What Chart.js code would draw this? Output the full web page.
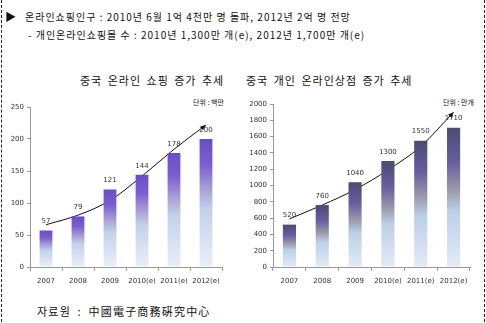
<!DOCTYPE html>
<html><head><meta charset="utf-8">
<script src="https://cdn.jsdelivr.net/npm/chart.js@4"></script>
<style>
body{margin:0;width:486px;height:323px;background:#fff;font-family:"Noto Sans CJK KR","Noto Sans",sans-serif;position:relative;overflow:hidden}
.t{position:absolute;white-space:nowrap;color:#111;line-height:1}
.frame{position:absolute;left:1px;top:0;width:482px;height:322px;border-left:1px dashed #222;border-right:1px dashed #222}
canvas{position:absolute}
</style></head><body>
<div class="frame"></div>
<div class="t" style="left:5px;top:11px;font-size:11px">▶</div>
<div class="t" style="left:25px;top:12px;font-size:10px;letter-spacing:1px">온라인쇼핑인구 : 2010년 6월 1억 4천만 명 돌파, 2012년 2억 명 전망</div>
<div class="t" style="left:28px;top:30px;font-size:10px;letter-spacing:1px">- 개인온라인쇼핑몰 수 : 2010년 1,300만 개(e), 2012년 1,700만 개(e)</div>
<div class="t" style="left:80px;top:75px;font-size:11px;letter-spacing:1px;word-spacing:2px">중국 온라인 쇼핑 증가 추세</div>
<div class="t" style="left:246px;top:75px;font-size:11px;letter-spacing:1px;word-spacing:2px">중국 개인 온라인상점 증가 추세</div>
<div class="t" style="left:193px;top:99px;font-size:7px">단위 : 백만</div>
<div class="t" style="left:443px;top:99px;font-size:7px">단위 : 만개</div>
<div class="t" style="left:37px;top:306px;font-size:11px;letter-spacing:1.2px;word-spacing:3px">자료원 : 中國電子商務硏究中心</div>
<canvas id="shoppersChart" style="left:0;top:95px" width="235" height="205"></canvas>
<canvas id="shopsChart" style="left:243px;top:95px" width="243" height="205"></canvas>
<script>
// values
const years = ['2007', '2008', '2009', '2010(e)', '2011(e)', '2012(e)'];
const shoppers = [57, 79, 121, 144, 178, 200];        // 단위: 백만
const shoppersTrend = [66, 81, 104, 142, 184, 222];   // curved arrow
const shops = [520, 760, 1040, 1300, 1550, 1710];     // 단위: 만개
const shopsTrend = [590, 760, 950, 1190, 1480, 1900]; // curved arrow

// bar gradients, top -> bottom
const purpleStops = [[0, '#6a4cc6'], [0.2, '#7c5ed2'], [0.4, '#aba2d8'], [0.55, '#c3d2ea'], [1, '#eaeff8']];
const slateStops = [[0, '#4b4b73'], [0.25, '#675ea0'], [0.45, '#9c9bab'], [0.6, '#bdd0e8'], [1, '#e3ebf6']];

// draws the value labels and the arrow head
const extras = {
    id: 'extras',
    afterDatasetsDraw(chart) {
        const c = chart.ctx;
        c.save();
        const bars = chart.getDatasetMeta(0);
        c.font = '7px "DejaVu Sans", sans-serif';
        c.fillStyle = '#333';
        c.textAlign = 'center';
        c.textBaseline = 'middle';
        bars.data.forEach(function(bar, i) {
            c.fillText(chart.data.datasets[0].data[i], bar.x, bar.y - 9);
        });
        // arrow head at the end of the trend line
        const pts = chart.getDatasetMeta(1).data;
        const last = pts[pts.length - 1];
        const px = last.cp1x !== undefined ? last.cp1x : pts[pts.length - 2].x;
        const py = last.cp1y !== undefined ? last.cp1y : pts[pts.length - 2].y;
        const a = Math.atan2(last.y - py, last.x - px);
        c.fillStyle = '#111';
        c.beginPath();
        c.moveTo(last.x, last.y);
        c.lineTo(last.x - 6 * Math.cos(a - 0.4), last.y - 6 * Math.sin(a - 0.4));
        c.lineTo(last.x - 6 * Math.cos(a + 0.4), last.y - 6 * Math.sin(a + 0.4));
        c.closePath();
        c.fill();
        c.restore();
    }
};

function make_chart(id, values, trend, max, step, stops, padTop, padRight) {
    const ctx = document.getElementById(id);
    return new Chart(ctx, {
        type: 'bar',
        data: {
            labels: years,
            datasets: [
                {
                    data: values,
                    barPercentage: 0.8,
                    categoryPercentage: 0.5,
                    backgroundColor: function(context) {
                        const chart = context.chart;
                        const y = chart.scales.y;
                        if (!y || context.raw === undefined) return stops[0][1];
                        const top = y.getPixelForValue(context.raw);
                        const bottom = y.getPixelForValue(0);
                        if (!isFinite(top) || !isFinite(bottom) || top === bottom) return stops[0][1];
                        const g = chart.ctx.createLinearGradient(0, top, 0, bottom);
                        stops.forEach(function(s) { g.addColorStop(s[0], s[1]); });
                        return g;
                    }
                },
                {
                    type: 'line',
                    data: trend,
                    borderColor: '#111',
                    borderWidth: 1,
                    pointRadius: 0,
                    tension: 0.4,
                    cubicInterpolationMode: 'monotone',
                    fill: false
                }
            ]
        },
        options: {
            responsive: false,
            animation: false,
            layout: { padding: { top: padTop, right: padRight, left: 0, bottom: 0 } },
            plugins: { legend: { display: false }, tooltip: { enabled: false } },
            scales: {
                x: {
                    afterFit: function(scale) { scale.height = 33; },
                    grid: { drawOnChartArea: false, tickLength: 4, color: '#999' },
                    border: { color: '#999' },
                    ticks: { font: { size: 7, family: 'DejaVu Sans' }, color: '#333', padding: 6, maxRotation: 0 }
                },
                y: {
                    min: 0,
                    max: max,
                    afterFit: function(scale) { scale.width = 30; },
                    grid: { drawOnChartArea: false, tickLength: 3, color: '#999' },
                    border: { color: '#999' },
                    ticks: {
                        stepSize: step,
                        font: { size: 7, family: 'DejaVu Sans' },
                        color: '#333',
                        padding: 3,
                        callback: function(v) { return String(v); }
                    }
                }
            }
        },
        plugins: [extras]
    });
}

make_chart('shoppersChart', shoppers, shoppersTrend, 250, 50, purpleStops, 12, 13);
make_chart('shopsChart', shops, shopsTrend, 2000, 200, slateStops, 9, 16);
</script>
</body></html>
